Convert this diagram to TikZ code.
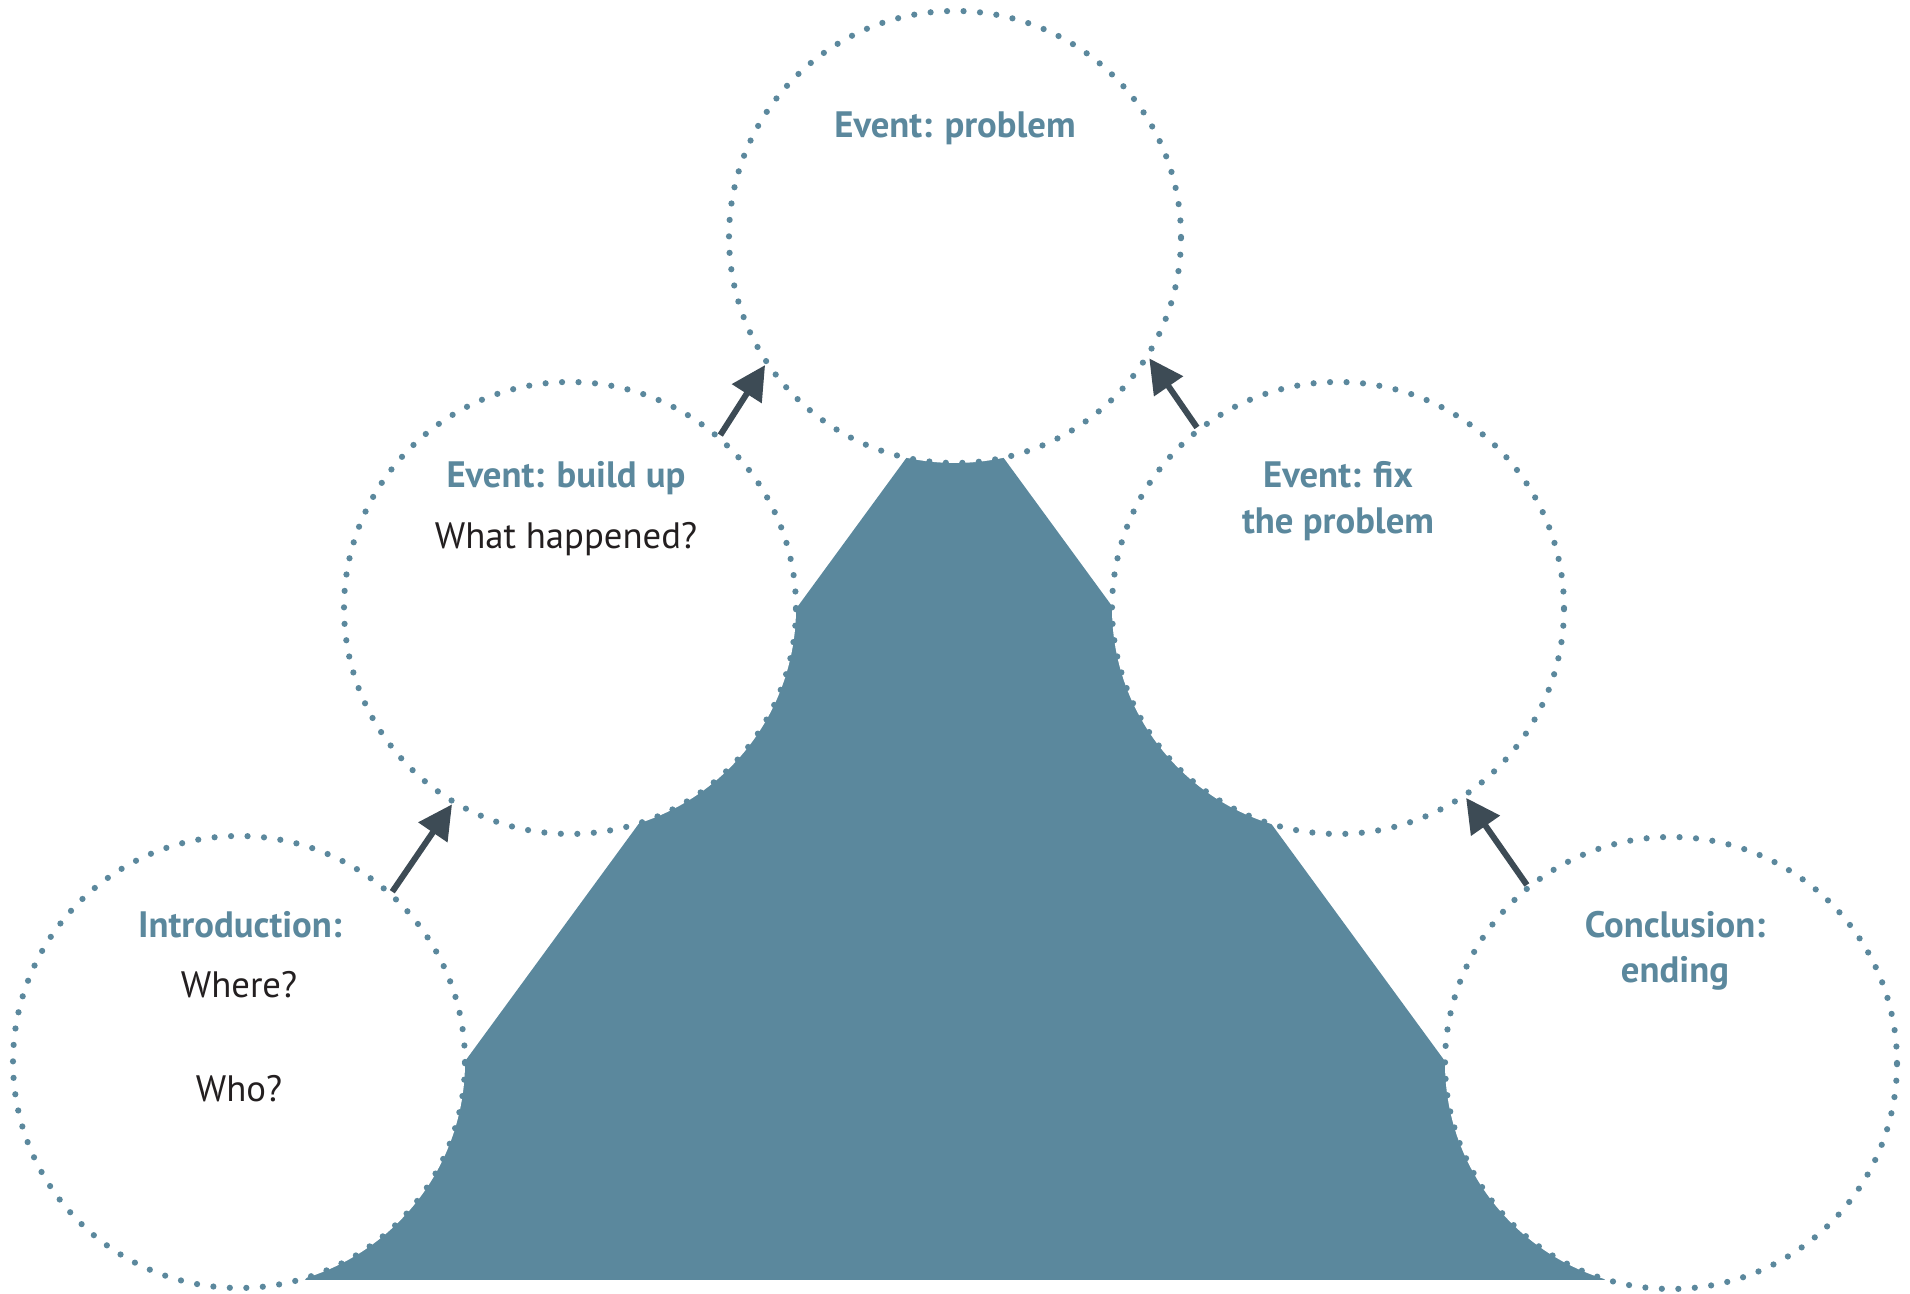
\documentclass[tikz,border=0pt]{standalone}
\usepackage{fontspec}
\setmainfont{PT Sans}
\usetikzlibrary{arrows.meta}

\definecolor{slate}{RGB}{91,136,157}
\definecolor{arrowgray}{RGB}{61,75,85}
\definecolor{ink}{RGB}{35,31,32}

\begin{document}
\begin{tikzpicture}[
    bubble/.style={circle, minimum size=4.52cm, fill=white, draw=slate,
        line width=0.062cm, line cap=round, dash pattern=on 0pt off 0.165cm},
    heading/.style={anchor=base, text=slate, font=\fontsize{10.45}{12}\selectfont\bfseries},
    body/.style={anchor=base, text=ink, font=\fontsize{10.45}{12}\selectfont},
    push/.style={-{Triangle[length=0.34cm, width=0.34cm]}, line width=0.06cm, arrowgray}
]
    \useasboundingbox (0,0) rectangle (19.10,12.94);

    % Mountain
    \fill[slate] (3.05,0.14) -- (9.195,8.54) -- (9.905,8.54) -- (16.05,0.14) -- cycle;

    % Bubbles
    \node[bubble] (top) at (9.55,10.57) {};
    \node[bubble] (build) at (5.70,6.86) {};
    \node[bubble] (fix) at (13.38,6.86) {};
    \node[bubble] (intro) at (2.39,2.32) {};
    \node[bubble] (ending) at (16.71,2.31) {};

    % Arrows
    \draw[push] (intro.48) -- (build.239);
    \draw[push] (build.49) -- (top.214);
    \draw[push] (fix.128) -- (top.328);
    \draw[push] (ending.129) -- (fix.304);

    % Texts
    \node[heading] (top-title) at (9.55,11.56) {Event: problem};
    \node[heading] (build-title) at (5.66,8.06) {Event: build up};
    \node[body] (build-q) at (5.66,7.45) {What happened?};
    \node[heading] (fix-title) at (13.38,8.06) {Event: fix};
    \node[heading] (fix-title2) at (13.38,7.60) {the problem};
    \node[heading] (intro-title) at (2.40,3.56) {Introduction:};
    \node[body] (intro-where) at (2.39,2.96) {Where?};
    \node[body] (intro-who) at (2.39,1.92) {Who?};
    \node[heading] (end-title) at (16.75,3.56) {Conclusion:};
    \node[heading] (end-title2) at (16.75,3.11) {ending};
\end{tikzpicture}
\end{document}
